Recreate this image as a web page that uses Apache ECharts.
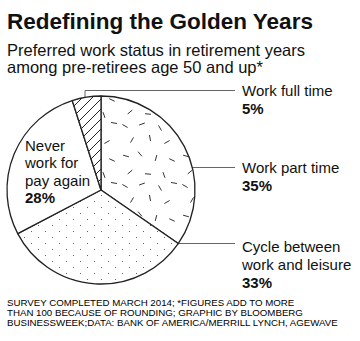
<!DOCTYPE html>
<html><head><meta charset="utf-8">
<script src="https://cdn.jsdelivr.net/npm/echarts@6/dist/echarts.min.js"></script>
<style>html,body{margin:0;padding:0;background:#fff}#c{width:360px;height:341px}</style>
</head><body><div id="c"></div>
<script>
const titleText = 'Redefining the Golden Years';
const subtitleLines = ['Preferred work status in retirement years', 'among pre-retirees age 50 and up*'];
const footerLines = ['SURVEY COMPLETED MARCH 2014; *FIGURES ADD TO MORE', 'THAN 100 BECAUSE OF ROUNDING; GRAPHIC BY BLOOMBERG', 'BUSINESSWEEK;DATA: BANK OF AMERICA/MERRILL LYNCH, AGEWAVE'];
const categories = ['Work part time', 'Cycle between\nwork and leisure', 'Never\nwork for\npay again', 'Work full time'];
const values = [35, 33, 28, 5];

const FONT = "'Liberation Sans', Arial, Helvetica, sans-serif";

function tile(w, h, draw) {
  const c = document.createElement('canvas');
  c.width = w; c.height = h;
  const g = c.getContext('2d');
  g.fillStyle = '#fff'; g.fillRect(0, 0, w, h);
  draw(g);
  return c;
}
const hatch = tile(10, 10, g => {
  g.strokeStyle = '#222'; g.lineWidth = 1;
  g.beginPath();
  g.moveTo(-2, 12); g.lineTo(12, -2);
  g.moveTo(-7, 7); g.lineTo(7, -7);
  g.moveTo(3, 17); g.lineTo(17, 3);
  g.stroke();
});
const dots = tile(14, 12, g => {
  g.fillStyle = '#666';
  g.fillRect(3, 3, 1, 1);
  g.fillRect(10, 9, 1, 1);
});
const dashList = [[5,6,30],[22,4,-20],[40,8,60],[54,3,10],[12,20,-60],[30,18,80],[47,22,-30],[6,36,15],[20,34,50],[36,38,-75],[52,40,25],[10,52,-40],[28,54,5],[44,55,70]];
const dashes = tile(60, 60, g => {
  g.strokeStyle = '#333'; g.lineWidth = 1;
  dashList.forEach(d => {
    const a = d[2] * Math.PI / 180, L = 3;
    g.beginPath();
    g.moveTo(d[0] - L * Math.cos(a), d[1] - L * Math.sin(a));
    g.lineTo(d[0] + L * Math.cos(a), d[1] + L * Math.sin(a));
    g.stroke();
  });
});
const fills = [
  { image: dashes, repeat: 'repeat' },
  { image: dots, repeat: 'repeat' },
  '#ffffff',
  { image: hatch, repeat: 'repeat' }
];

const chart = echarts.init(document.getElementById('c'), null, { renderer: 'svg' });

const layouts = [
  { x: 242, y: 158.5, pts: [[170, 167.5], [235, 167.5]] },
  { x: 242, y: 237, pts: [[170, 243.5], [235, 243.5]] },
  { x: 25, y: 137, pts: null },
  { x: 242, y: 81, pts: [[85, 107], [85, 90.5], [235, 90.5]] }
];

chart.setOption({
  animation: false,
  graphic: [
    { type: 'text', left: 7, top: 10, style: { text: titleText, font: 'bold 22.5px ' + FONT, fill: '#111' } },
    { type: 'text', left: 7, top: 41, style: { text: subtitleLines.join('\n'), font: '16.5px ' + FONT, lineHeight: 17, fill: '#111' } },
    { type: 'text', left: 7, top: 297.5, style: { text: footerLines.join('\n'), font: '9.7px ' + FONT, lineHeight: 10, fill: '#000' } }
  ],
  series: [{
    type: 'pie',
    center: [101, 190],
    radius: 94,
    startAngle: 90,
    clockwise: true,
    avoidLabelOverlap: false,
    itemStyle: { borderColor: '#222', borderWidth: 1.3 },
    emphasis: { disabled: true },
    label: {
      show: true,
      position: 'outside',
      fontFamily: FONT,
      formatter: p => p.name.split('\n').map(s => '{n|' + s + '}').join('\n') + '\n{v|' + p.value + '%}',
      rich: {
        n: { fontSize: 15, lineHeight: 18, color: '#111', fontFamily: FONT },
        v: { fontSize: 15, lineHeight: 18, color: '#111', fontWeight: 'bold', fontFamily: FONT }
      }
    },
    labelLine: { show: true, lineStyle: { color: '#666', width: 1 } },
    labelLayout: function (params) {
      const L = layouts[params.dataIndex];
      const o = { x: L.x, y: L.y, align: 'left', verticalAlign: 'top', moveOverlap: false };
      if (L.pts) o.labelLinePoints = L.pts;
      return o;
    },
    data: categories.map((c, i) => {
      const d = { name: c, value: values[i], itemStyle: { color: fills[i] } };
      if (i === 2) {
        d.labelLine = { show: false };
        d.label = { rich: { n: { lineHeight: 17.3 }, v: { lineHeight: 17.3 } } };
      }
      return d;
    })
  }]
});
</script></body></html>
